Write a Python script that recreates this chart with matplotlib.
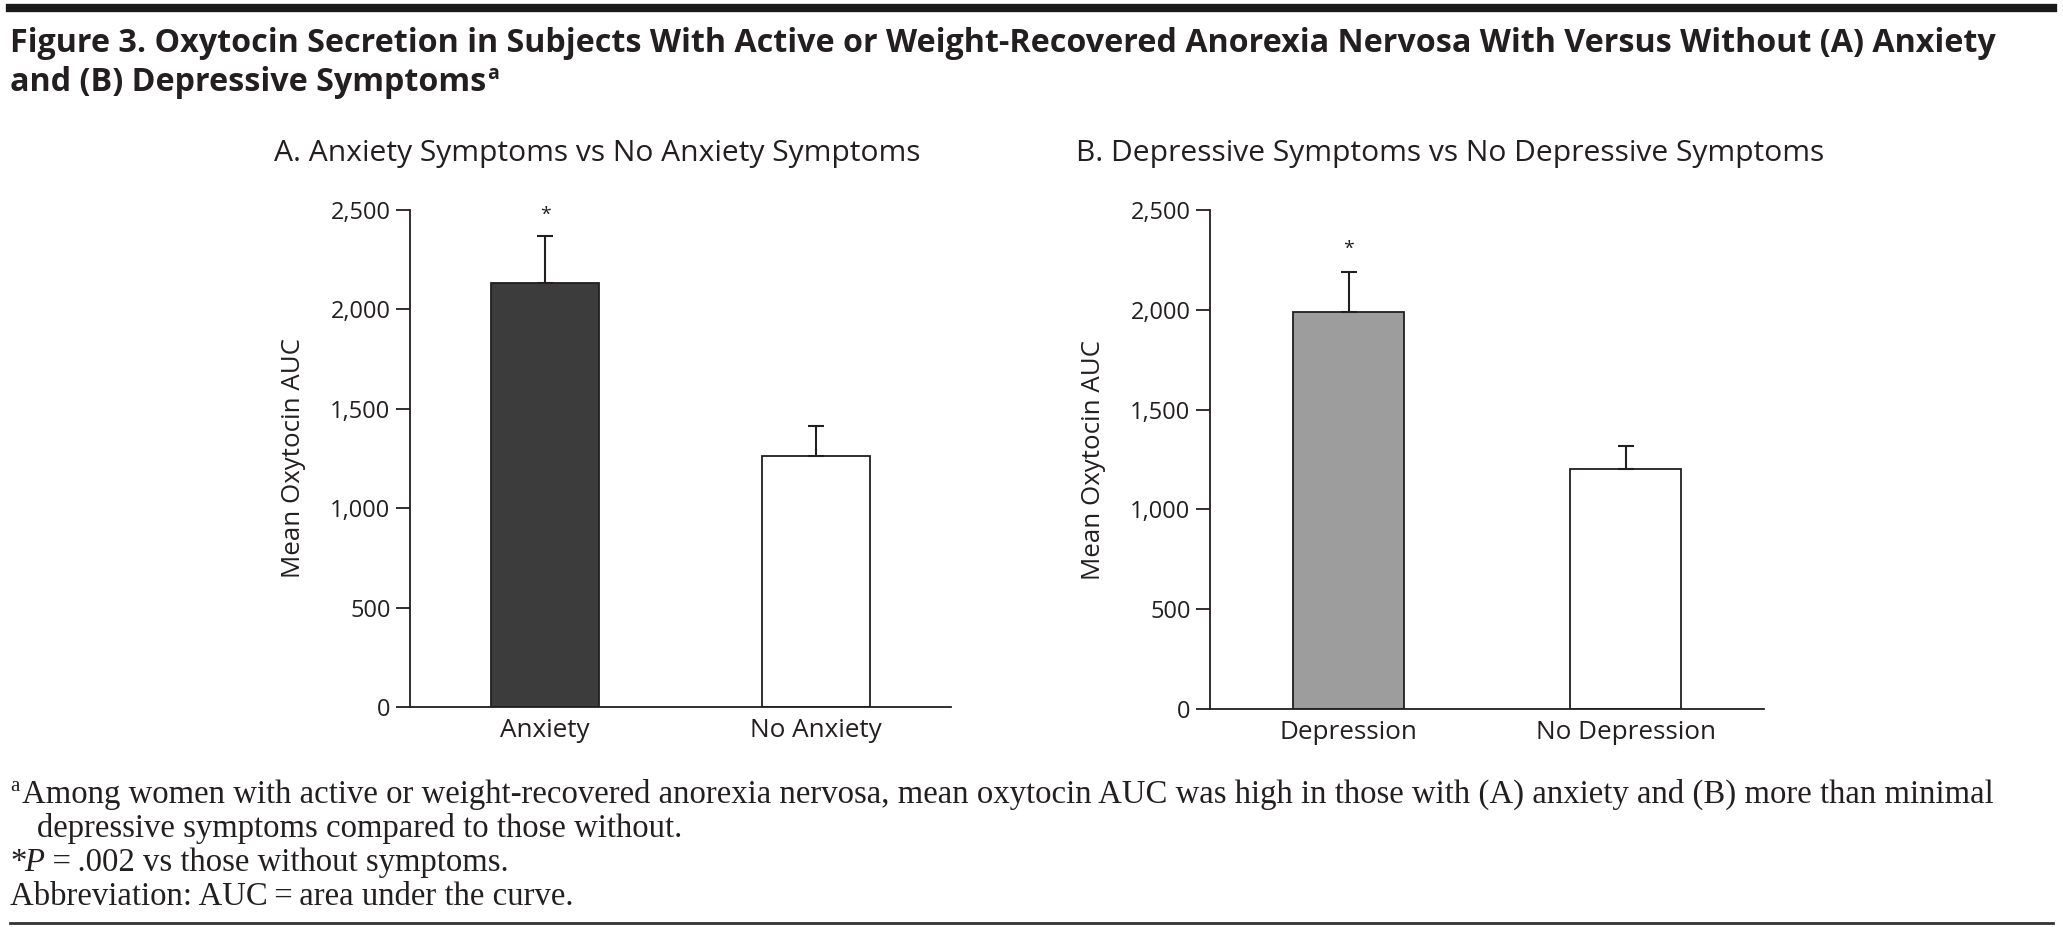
import matplotlib
matplotlib.use("Agg")
import matplotlib.pyplot as plt
from matplotlib.ticker import FuncFormatter

# data
groups_a = ["Anxiety", "No Anxiety"]
means_a = [2135, 1262]
err_a = [234, 151]
groups_b = ["Depression", "No Depression"]
means_b = [1990, 1202]
err_b = [200, 116]
colors_a = ["#3c3c3c", "white"]
colors_b = ["#9d9d9d", "white"]
yticks = [0, 500, 1000, 1500, 2000, 2500]
star_a = 2475
star_b = 2305

W, H = 2063, 927
SANS = ["Open Sans", "DejaVu Sans"]
SERIF = ["Liberation Serif", "DejaVu Serif"]
col = "#231f20"

fig = plt.figure(figsize=(W / 100, H / 100), dpi=100)


def fx(px):
    return px / W


def fy(py):
    return 1 - py / H


def ax_rect(left, right, top, bottom):
    return [fx(left), fy(bottom), (right - left) / W, (bottom - top) / H]


# rules at top and bottom
fig.add_artist(plt.Line2D([fx(10), fx(2053)], [fy(8), fy(8)], color="#1a1a1a", lw=6))
fig.add_artist(plt.Line2D([fx(10), fx(2053)], [fy(923), fy(923)], color="#333333", lw=2))

# figure title
fig.text(fx(10), fy(52), "Figure 3. Oxytocin Secretion in Subjects With Active or Weight-Recovered "
         "Anorexia Nervosa With Versus Without (A) Anxiety",
         family=SANS, fontsize=23.2, weight="bold", color=col, va="baseline")
t2 = fig.text(fx(10), fy(91), "and (B) Depressive Symptoms",
              family=SANS, fontsize=23.2, weight="bold", color=col, va="baseline")

fig.canvas.draw()
r = fig.canvas.get_renderer()
bb = t2.get_window_extent(r)
fig.text(bb.x1 / W + 0.0005, fy(79), "a", family=SANS, fontsize=14, weight="bold",
         color=col, va="baseline")


def panel(rect, title, title_x, groups, means, errs, colors, star_y, ylab_x):
    ax = fig.add_axes(rect)
    x = list(range(len(groups)))
    ax.bar(x, means, width=0.4, color=colors, edgecolor=col, linewidth=1.3,
           yerr=[[0] * len(errs), errs], capsize=6,
           error_kw=dict(elinewidth=1.5, capthick=1.5, ecolor=col))
    ax.text(0, star_y, "*", ha="center", va="center", family=SANS, fontsize=14, color=col)
    ax.set_xlim(-0.5, 1.5)
    ax.set_ylim(0, 2500)
    ax.set_yticks(yticks)
    ax.yaxis.set_major_formatter(FuncFormatter(lambda v, p: f"{int(v):,}"))
    ax.set_xticks(x)
    ax.set_xticklabels(groups)
    for s in ["top", "right"]:
        ax.spines[s].set_visible(False)
    for s in ["left", "bottom"]:
        ax.spines[s].set_linewidth(1.3)
        ax.spines[s].set_color(col)
    ax.tick_params(axis="y", length=10, width=1.3, pad=4, labelsize=17, colors=col)
    ax.tick_params(axis="x", length=0, pad=8, labelsize=18.8, colors=col)
    for lab in ax.get_xticklabels() + ax.get_yticklabels():
        lab.set_family(SANS)
    ax.set_ylabel("Mean Oxytocin AUC", family=SANS, fontsize=18.6, color=col)
    ax.yaxis.set_label_coords(ylab_x, 0.5)
    ax.yaxis.label.set_verticalalignment("center")
    fig.text(fx(title_x), fy(161), title, family=SANS, fontsize=21.6, color=col, va="baseline")
    return ax


panel(ax_rect(410, 951, 210, 707), "A. Anxiety Symptoms vs No Anxiety Symptoms", 274,
      groups_a, means_a, err_a, colors_a, star_a, (293 - 410) / 541)
panel(ax_rect(1210, 1764, 210, 709), "B. Depressive Symptoms vs No Depressive Symptoms", 1076,
      groups_b, means_b, err_b, colors_b, star_b, (1094 - 1210) / 554)

# footnotes
fs = 23.6
fig.text(fx(10), fy(791), "a", family=SERIF, fontsize=15, color=col, va="baseline")
fig.text(fx(22), fy(803), "Among women with active or weight-recovered anorexia nervosa, mean oxytocin "
         "AUC was high in those with (A) anxiety and (B) more than minimal",
         family=SERIF, fontsize=fs, color=col, va="baseline")
fig.text(fx(37), fy(837), "depressive symptoms compared to those without.",
         family=SERIF, fontsize=fs, color=col, va="baseline")
fig.text(fx(10), fy(871), "*", family=SERIF, fontsize=fs, color=col, va="baseline")
tp = fig.text(fx(24), fy(871), "P", family=SERIF, fontsize=fs, style="italic", color=col, va="baseline")
fig.canvas.draw()
bbp = tp.get_window_extent(fig.canvas.get_renderer())
fig.text(bbp.x1 / W + 0.001, fy(871), "\u2009=\u2009.002 vs those without symptoms.",
         family=SERIF, fontsize=fs, color=col, va="baseline")
fig.text(fx(10), fy(905), "Abbreviation: AUC\u2009=\u2009area under the curve.",
         family=SERIF, fontsize=fs, color=col, va="baseline")

fig.savefig("out.png", dpi=100)
